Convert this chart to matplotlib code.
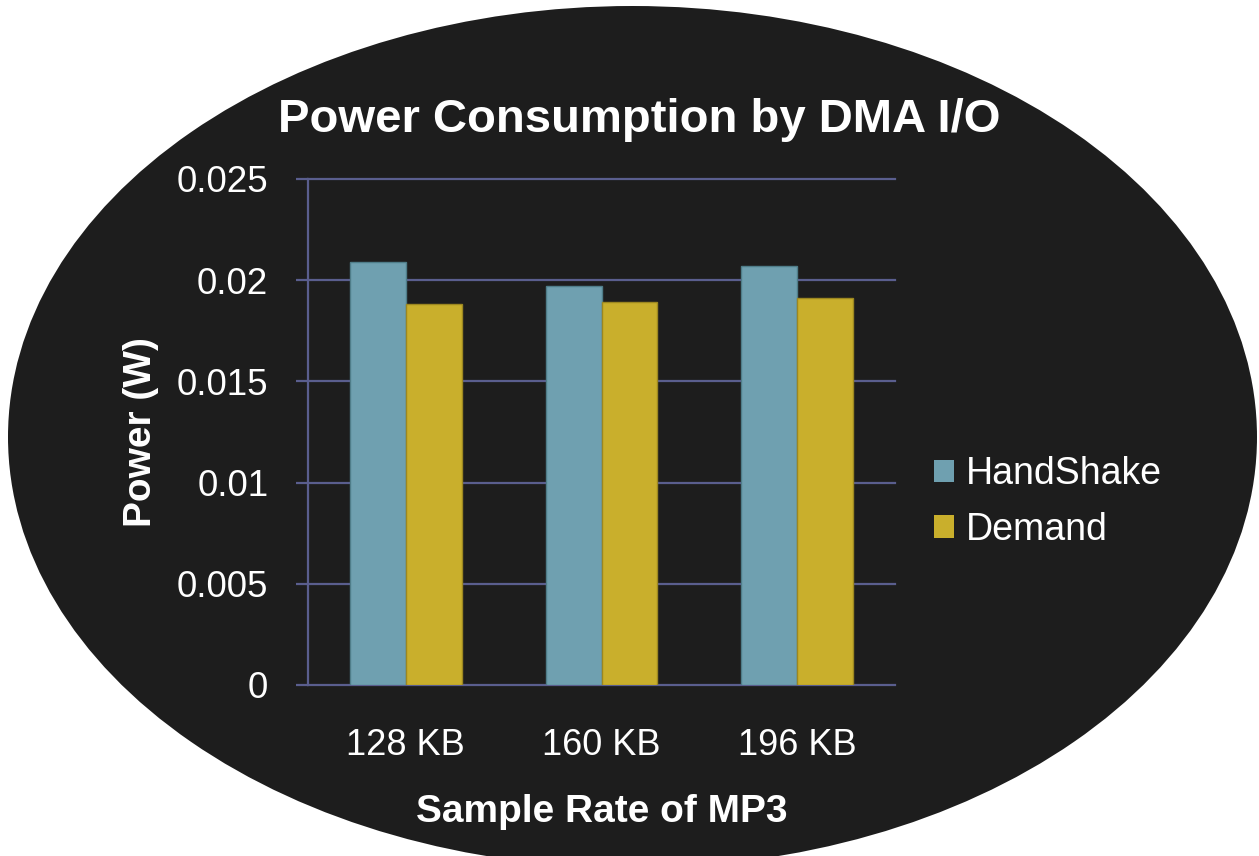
import numpy as np
import matplotlib.pyplot as plt
from matplotlib.patches import Ellipse, Patch

plt.rcParams["font.family"] = ["Liberation Sans", "DejaVu Sans"]

rates = ["128 KB", "160 KB", "196 KB"]
handshake = [0.0209, 0.0197, 0.0207]
demand = [0.0188, 0.0189, 0.0191]
series_names = ["HandShake", "Demand"]
yticks = [0, 0.005, 0.01, 0.015, 0.02, 0.025]
ytick_labels = ["0", "0.005", "0.01", "0.015", "0.02", "0.025"]

bg = "#1d1d1d"
grid_col = "#5a5e8e"
teal = "#6fa0b0"
gold = "#c9af2c"

W, H = 1259, 856
fig = plt.figure(figsize=(W / 100, H / 100), dpi=100, facecolor="white")

# dark oval behind everything
oval = Ellipse((632.5 / W, 1 - 437 / H), 1249 / W, 862 / H,
               transform=fig.transFigure, facecolor=bg, edgecolor="none",
               zorder=0)
fig.add_artist(oval)

ax = fig.add_axes([308 / W, (H - 685) / H, 587 / W, 506 / H])
ax.set_facecolor("none")

x = np.arange(len(rates))
bw = 0.286
ax.bar(x - bw / 2, handshake, bw, color=teal, edgecolor="#4f7d89",
       linewidth=1, zorder=3)
ax.bar(x + bw / 2, demand, bw, color=gold, edgecolor="#9c8720",
       linewidth=1, zorder=3)

ax.set_xlim(-0.5, len(rates) - 0.5)
ax.set_ylim(0, 0.025)
ax.set_yticks(yticks, labels=ytick_labels)
ax.set_xticks(x, labels=rates)

for s in ["top", "right", "bottom"]:
    ax.spines[s].set_visible(False)
ax.spines["left"].set_color(grid_col)
ax.spines["left"].set_linewidth(1.6)
ax.spines["left"].set_zorder(2)

ax.yaxis.grid(True, color=grid_col, linewidth=1.6, zorder=1)
ax.set_axisbelow(True)
for gl in ax.get_ygridlines():
    gl.set_clip_on(False)

ax.tick_params(axis="y", colors=grid_col, length=8.6, width=1.6,
               pad=20, labelsize=26.5, labelcolor="white")
ax.tick_params(axis="x", length=0, pad=31, labelsize=26,
               labelcolor="white")

fig.text(0.508, 1 - 132 / H, "Power Consumption by DMA I/O",
         ha="center", va="baseline", color="white", fontsize=34,
         fontweight="bold")
fig.text(602 / W, 1 - 822 / H, "Sample Rate of MP3", ha="center",
         va="baseline", color="white", fontsize=28, fontweight="bold")
fig.text(141 / W, 1 - 432 / H, "Power (W)", ha="center", va="center",
         rotation=90, color="white", fontsize=28, fontweight="bold")

handles = [Patch(facecolor=teal), Patch(facecolor=gold)]
leg = fig.legend(handles, series_names, loc="center left",
                 bbox_to_anchor=(934 / W, 1 - 502 / H), frameon=False,
                 fontsize=27, handlelength=0.53, handleheight=0.53,
                 handletextpad=0.32, labelspacing=0.52, borderpad=0,
                 borderaxespad=0)
for t in leg.get_texts():
    t.set_color("white")

fig.savefig("out.png", dpi=100, facecolor="white")
